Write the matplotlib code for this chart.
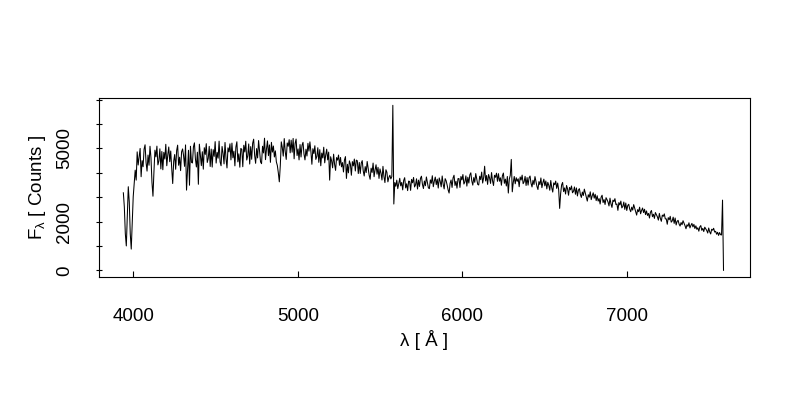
import numpy as np
import matplotlib
matplotlib.use("Agg")
import matplotlib.pyplot as plt

plt.rcParams["font.family"] = ["Liberation Sans", "DejaVu Sans"]
plt.rcParams["mathtext.fontset"] = "custom"
plt.rcParams["mathtext.rm"] = "Liberation Sans"

# spectrum: wavelength grid start/step [A] and flux [counts]
lam_start = 3940
lam_step = 6
flux = [
    3180, 2600, 1500, 1000, 2200, 3430, 2800, 1500, 870, 2000,
    3020, 3560, 4110, 3700, 4860, 4320, 4660, 5000, 3840, 4500,
    4250, 4970, 5150, 4430, 4070, 4730, 4310, 5090, 4610, 3600,
    3040, 4050, 4930, 4655, 5095, 4325, 4490, 4985, 4160, 4875,
    4125, 4840, 4565, 5170, 4290, 4730, 5060, 4455, 4895, 4180,
    3560, 4475, 4750, 4145, 4915, 5135, 4310, 4640, 4090, 4860,
    4980, 4705, 4265, 5145, 3290, 4100, 4925, 3490, 5090, 4430,
    4405, 5065, 5230, 4570, 4240, 4845, 3530, 5175, 4735, 4295,
    4865, 4150, 5030, 4755, 5195, 4425, 4590, 5085, 4260, 4975,
    4235, 4950, 4675, 5280, 4400, 4840, 4600, 5300, 4450, 4290,
    5080, 4805, 4365, 5245, 4585, 4200, 5025, 4860, 5190, 4530,
    5220, 4615, 4890, 4285, 5055, 5275, 4450, 4780, 4230, 5000,
    4965, 4250, 5130, 4855, 5295, 4525, 4690, 5185, 4360, 5075,
    4555, 5215, 5380, 4720, 4390, 4995, 4610, 5325, 4885, 4445,
    4375, 5090, 4815, 5420, 4540, 4980, 5310, 4705, 5145, 4430,
    5250, 4850, 5100, 4650, 4900, 4450, 4300, 4000, 3630, 4300,
    5270, 5045, 4685, 5405, 4865, 4550, 5225, 5090, 5360, 4820,
    5340, 4845, 5410, 4575, 5205, 5385, 4710, 4980, 4530, 5160,
    4650, 5130, 5250, 4770, 4530, 4970, 4690, 5210, 4890, 5270,
    4870, 4350, 4990, 4790, 5110, 4550, 4670, 5030, 4430, 4950,
    4290, 4810, 4610, 5050, 4410, 4730, 4970, 4530, 4850, 3700,
    4660, 4485, 4205, 4765, 4345, 4100, 4625, 4520, 4730, 4310,
    4630, 4245, 4420, 4035, 4525, 4665, 3770, 4350, 4000, 4490,
    4355, 3900, 4460, 4285, 4565, 4075, 4520, 4495, 3970, 4425,
    3975, 4395, 4500, 4080, 3870, 4255, 4010, 4465, 4185, 3905,
    3735, 4190, 4015, 4400, 3840, 4120, 4330, 3945, 4225, 3770,
    4160, 3985, 3705, 4265, 3845, 3600, 4125, 4020, 3630, 3810,
    3900, 3750, 3850, 6770, 2720, 3600, 3450, 3700, 3350, 3550,
    3775, 3465, 3605, 3300, 3690, 3800, 3380, 3550, 3270, 3660,
    3645, 3280, 3730, 3590, 3810, 3420, 3505, 3755, 3335, 3700,
    3440, 3775, 3860, 3525, 3355, 3665, 3470, 3830, 3610, 3385,
    3350, 3710, 3570, 3880, 3430, 3655, 3825, 3515, 3740, 3375,
    3790, 3650, 3425, 3870, 3535, 3340, 3760, 3675, 3500, 3300,
    3170, 3565, 3705, 3400, 3790, 3900, 3480, 3650, 3370, 3760,
    3765, 3400, 3850, 3710, 3930, 3540, 3625, 3875, 3455, 3820,
    3580, 3915, 4000, 3665, 3495, 3805, 3610, 3970, 3750, 3525,
    3500, 3860, 3720, 4030, 3580, 3805, 4270, 3665, 3890, 3525,
    3930, 3790, 3565, 4010, 3675, 3480, 3900, 3815, 3985, 3650,
    3965, 3655, 3795, 3490, 3880, 3990, 3570, 3740, 3460, 3850,
    3170, 3750, 3900, 4550, 3220, 3600, 3850, 3550, 3800, 3650,
    3755, 3430, 3830, 3705, 3905, 3555, 3630, 3855, 3480, 3805,
    3495, 3795, 3870, 3570, 3420, 3695, 3520, 3845, 3645, 3445,
    3315, 3640, 3515, 3790, 3390, 3590, 3740, 3465, 3665, 3340,
    3610, 3485, 3285, 3685, 3385, 3210, 3585, 3510, 3660, 3360,
    3580, 3305, 2540, 3155, 3505, 3605, 3230, 3380, 3130, 3480,
    3340, 3080, 3400, 3300, 3460, 3180, 3240, 3420, 3120, 3380,
    3050, 3290, 3350, 3110, 2990, 3210, 3070, 3330, 3170, 3010,
    2840, 3100, 3000, 3220, 2900, 3060, 3180, 2960, 3120, 2860,
    3060, 2840, 2940, 2720, 3000, 3080, 2780, 2900, 2700, 2980,
    2900, 2800, 2640, 2960, 2720, 2580, 2880, 2820, 2940, 2700,
    2720, 2460, 2780, 2680, 2840, 2560, 2620, 2800, 2500, 2760,
    2455, 2660, 2710, 2505, 2405, 2590, 2470, 2695, 2555, 2420,
    2265, 2490, 2405, 2590, 2320, 2455, 2555, 2370, 2505, 2285,
    2435, 2250, 2335, 2145, 2385, 2455, 2200, 2300, 2130, 2370,
    2280, 2195, 2060, 2335, 2130, 2010, 2265, 2215, 2315, 2110,
    2110, 1890, 2160, 2075, 2215, 1975, 2025, 2180, 1925, 2145,
    1860, 2010, 2050, 1895, 1815, 1960, 1870, 2035, 1935, 1830,
    1705, 1870, 1805, 1950, 1740, 1845, 1925, 1780, 1885, 1715,
    1825, 1680, 1745, 1605, 1785, 1835, 1640, 1720, 1590, 1770,
    1700, 1635, 1530, 1735, 1580, 1490, 1685, 1645, 1725, 1570,
    1600, 1480, 1560, 1430, 1550, 1460, 1450, 2880, 0,
]
wave = lam_start + lam_step * np.arange(len(flux))

x_ticks = [4000, 5000, 6000, 7000]
y_ticks = [0, 1000, 2000, 3000, 4000, 5000, 6000, 7000]
y_labels = ["0", "", "2000", "", "", "5000", "", ""]

fig = plt.figure(figsize=(8, 4), dpi=100)
ax = fig.add_axes([0.12375, 0.3075, 0.81375, 0.4475])
ax.plot(wave, flux, color="black", lw=0.75)

ax.set_xlim(3792, 7749)
ax.set_ylim(-275, 7070)
ax.set_xticks(x_ticks)
ax.set_yticks(y_ticks)
ax.set_yticklabels(y_labels, rotation=90, va="center")
ax.tick_params(axis="x", direction="in", length=4, pad=22, labelsize=13.5)
ax.tick_params(axis="y", direction="inout", length=5, pad=16, labelsize=13.5)
for s in ax.spines.values():
    s.set_linewidth(0.8)

ax.set_xlabel("λ [ Å ]", fontsize=13.5, labelpad=4)
ax.set_ylabel(r"F$_\mathrm{\lambda}$ [ Counts ]", fontsize=13.5, labelpad=6)

fig.savefig("out.png", dpi=100)
